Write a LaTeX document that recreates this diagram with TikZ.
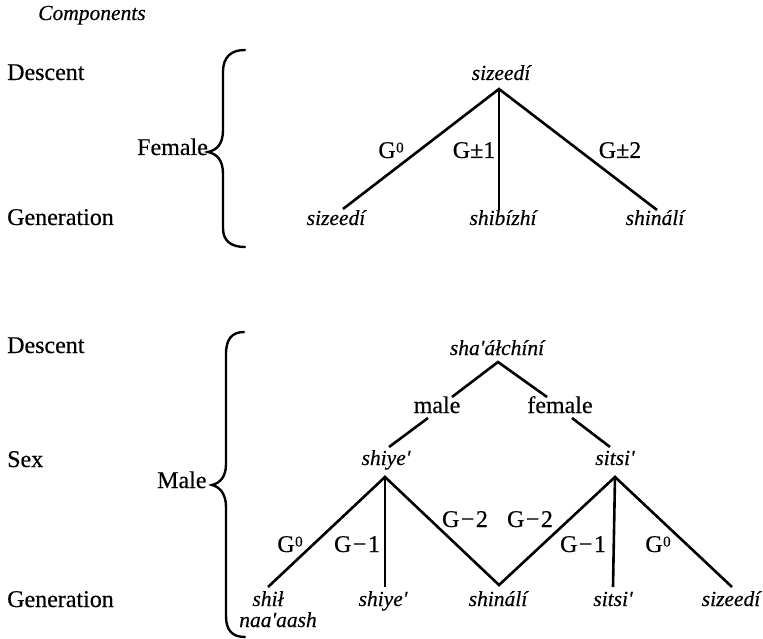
\documentclass[tikz,border=0pt]{standalone}
\usepackage{fontspec}
\setmainfont{Liberation Serif}[UprightFeatures={FakeBold=0.45}, ItalicFeatures={FakeBold=0.35}]
\newcommand{\gsup}{G\kern0.5pt\raisebox{5.5pt}{\fontsize{15}{15}\selectfont 0}}
\tikzset{
  rm/.style={font=\fontsize{24}{26}\selectfont, anchor=base, inner sep=0pt},
  it/.style={font=\fontsize{21.5}{23}\selectfont\itshape, anchor=base, inner sep=0pt},
  lbl/.style={font=\fontsize{24}{26}\selectfont, anchor=base, inner sep=0pt},
  stroke/.style={line width=2.6pt, line join=miter},
  bracestroke/.style={line width=2.4pt, line cap=round}
}
\begin{document}
\begin{tikzpicture}[x=1pt,y=-1pt]
\useasboundingbox (0,0) rectangle (763,639);
% ---------- headings ----------
\node[it, anchor=base west] (comp) at (38,20) {Components};
\node[rm, anchor=base west] (desc1) at (7,80) {Descent};
\node[rm, anchor=base west] (gen1) at (7,225) {Generation};
\node[rm, anchor=base west] (fem) at (137,155) {Female};
\node[rm, anchor=base west] (desc2) at (7,353) {Descent};
\node[rm, anchor=base west] (sex) at (7,467) {Sex};
\node[rm, anchor=base west] (gen2) at (7,607) {Generation};
\node[rm, anchor=base west] (male) at (157,488) {Male};
% ---------- braces ----------
\draw[bracestroke] (245,50) .. controls (231,50) and (223,57) .. (223,72)
  -- (223,130) .. controls (223,144) and (217,150) .. (208,152)
  .. controls (217,154) and (223,160) .. (223,174)
  -- (223,228) .. controls (223,241) and (231,247) .. (245,247);
\draw[bracestroke] (244,332) .. controls (232,332) and (226,339) .. (226,354)
  -- (226,464) .. controls (226,477) and (220,483) .. (212,485)
  .. controls (220,487) and (226,494) .. (226,507)
  -- (226,616) .. controls (226,630) and (232,637) .. (245,637);
% ---------- female tree ----------
\node[it] (top) at (501,80) {sizeedí};
\coordinate (a1) at (499,89);
\coordinate (l1) at (343,209);
\coordinate (m1) at (499,210);
\coordinate (r1) at (657,210);
\node[it] (f1) at (336,225) {sizeedí};
\node[it] (f2) at (503,225) {shibízhí};
\node[it] (f3) at (655,225) {shinálí};
\draw[stroke] (l1) -- (a1) -- (r1);
\draw[stroke] (a1) -- (m1);
\node[lbl] (g0a) at (391,158) {\gsup};
\node[lbl] (g1a) at (474,158) {G±1};
\node[lbl] (g2a) at (620,158) {G±2};
% ---------- male tree ----------
\node[it] (root) at (497,355) {sha\textquotesingle áłchíní};
\coordinate (pA) at (498,362);
\coordinate (pl) at (452,397);
\coordinate (pr) at (547,397);
\draw[stroke] (pl) -- (pA) -- (pr);
\node[rm] (mal) at (437,413) {male};
\node[rm] (fml) at (560,413) {female};
\coordinate (ml1) at (428,418);
\coordinate (ml2) at (389,447);
\coordinate (fl1) at (572,418);
\coordinate (fl2) at (610,447);
\draw[stroke] (ml1) -- (ml2);
\draw[stroke] (fl1) -- (fl2);
\node[it] (shy) at (386,465) {shiye\textquotesingle};
\node[it] (sts) at (615,465) {sitsi\textquotesingle};
\coordinate (shA) at (385,477);
\coordinate (siA) at (615,477);
\coordinate (e1) at (268,587);
\coordinate (e2) at (385,587);
\coordinate (vb) at (499,585);
\coordinate (e4) at (613,587);
\coordinate (e5) at (732,587);
\draw[stroke] (e1) -- (shA) -- (vb) -- (siA) -- (e5);
\draw[stroke] (shA) -- (e2);
\draw[stroke] (siA) -- (e4);
\node[lbl] (g0b) at (290,552) {\gsup};
\node[lbl] (g1b) at (357,552) {G\kern1.5pt−\kern1.5pt1};
\node[lbl] (g2b) at (465,527) {G\kern1.5pt−\kern1.5pt2};
\node[lbl] (g2c) at (530,527) {G\kern1.5pt−\kern1.5pt2};
\node[lbl] (g1c) at (583,552) {G\kern1.5pt−\kern1.5pt1};
\node[lbl] (g0c) at (658,552) {\gsup};
\node[it] (b1) at (268,606) {shił};
\node[it] (b1b) at (278,627) {naa\textquotesingle aash};
\node[it] (b2) at (383,606) {shiye\textquotesingle};
\node[it] (b3) at (498,606) {shinálí};
\node[it] (b4) at (613,606) {sitsi\textquotesingle};
\node[it] (b5) at (731,606) {sizeedí};
\end{tikzpicture}
\end{document}
